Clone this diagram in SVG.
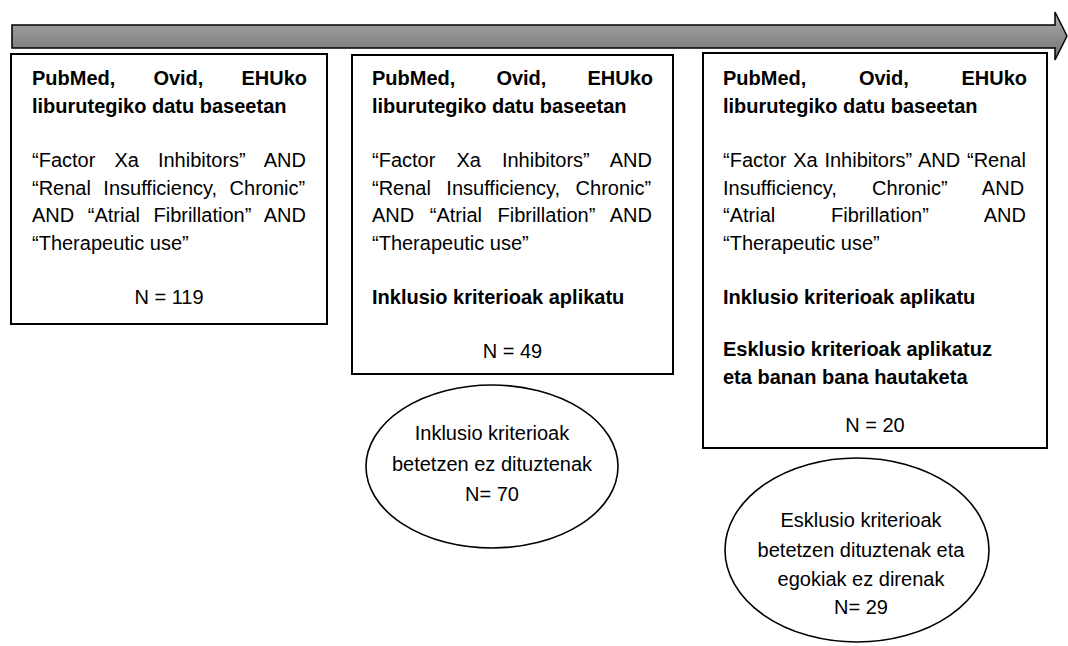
<svg xmlns="http://www.w3.org/2000/svg" width="1068" height="646" viewBox="0 0 1068 646">
<style>
  .box { fill: #ffffff; stroke: #000000; stroke-width: 2; }
  .ell { fill: #ffffff; stroke: #000000; stroke-width: 1.6; }
  text { font-family: "Liberation Sans", Arial, sans-serif; font-size: 20px; fill: #000000; }
  .b { font-weight: bold; }
  .c { text-anchor: middle; }
</style>
<defs>
  <linearGradient id="arrowGrad" x1="0" y1="0" x2="0" y2="1">
    <stop offset="0" stop-color="#ababab"/>
    <stop offset="1" stop-color="#727272"/>
  </linearGradient>
</defs>
<rect width="1068" height="646" fill="#ffffff"/>

<g id="connectors">
  <path id="timeline-arrow" d="M12,25 H1055 V12 L1067,36 L1055,60 V48 H12 Z" fill="url(#arrowGrad)" stroke="#000000" stroke-width="1.5" stroke-linejoin="miter"/>
</g>

<g id="box1">
  <rect class="box" x="11" y="54" width="316" height="270"/>
  <text class="b" x="32" y="85" word-spacing="32.5">PubMed, Ovid, EHUko</text>
  <text class="b" x="32" y="113">liburutegiko datu baseetan</text>
  <text x="32" y="167" word-spacing="13.5">“Factor Xa Inhibitors” AND</text>
  <text x="32" y="194.5" word-spacing="6.9">“Renal Insufficiency, Chronic”</text>
  <text x="32" y="222" word-spacing="7.96">AND “Atrial Fibrillation” AND</text>
  <text x="32" y="249.5">“Therapeutic use”</text>
  <text class="c" x="169" y="304">N = 119</text>
</g>

<g id="box2">
  <rect class="box" x="352" y="55" width="321" height="319"/>
  <text class="b" x="372" y="85" word-spacing="35.5">PubMed, Ovid, EHUko</text>
  <text class="b" x="372" y="113">liburutegiko datu baseetan</text>
  <text x="372" y="167" word-spacing="15.5">“Factor Xa Inhibitors” AND</text>
  <text x="372" y="194.5" word-spacing="9.9">“Renal Insufficiency, Chronic”</text>
  <text x="372" y="222" word-spacing="9.96">AND “Atrial Fibrillation” AND</text>
  <text x="372" y="249.5">“Therapeutic use”</text>
  <text class="b" x="372" y="304">Inklusio kriterioak aplikatu</text>
  <text class="c" x="512.5" y="358">N = 49</text>
</g>

<g id="box3">
  <rect class="box" x="703" y="53" width="344" height="395"/>
  <text class="b" x="723" y="85" word-spacing="47">PubMed, Ovid, EHUko</text>
  <text class="b" x="723" y="113">liburutegiko datu baseetan</text>
  <text x="723" y="167" word-spacing="1.26">“Factor Xa Inhibitors” AND “Renal</text>
  <text x="723" y="194.5" word-spacing="29.75">Insufficiency, Chronic” AND</text>
  <text x="723" y="222" word-spacing="50.3">“Atrial Fibrillation” AND</text>
  <text x="723" y="249.5">“Therapeutic use”</text>
  <text class="b" x="723" y="304">Inklusio kriterioak aplikatu</text>
  <text class="b" x="723" y="356">Esklusio kriterioak aplikatuz</text>
  <text class="b" x="723" y="384">eta banan bana hautaketa</text>
  <text class="c" x="875" y="432">N = 20</text>
</g>

<g id="ellipse1">
  <ellipse class="ell" cx="492" cy="466.5" rx="126" ry="81.5"/>
  <text class="c" x="492" y="440">Inklusio kriterioak</text>
  <text class="c" x="492" y="471">betetzen ez dituztenak</text>
  <text class="c" x="492" y="501">N= 70</text>
</g>

<g id="ellipse2">
  <ellipse class="ell" cx="857" cy="550" rx="132" ry="92"/>
  <text class="c" x="861" y="527">Esklusio kriterioak</text>
  <text class="c" x="861" y="557">betetzen dituztenak eta</text>
  <text class="c" x="861" y="586">egokiak ez direnak</text>
  <text class="c" x="861" y="614">N= 29</text>
</g>
</svg>
